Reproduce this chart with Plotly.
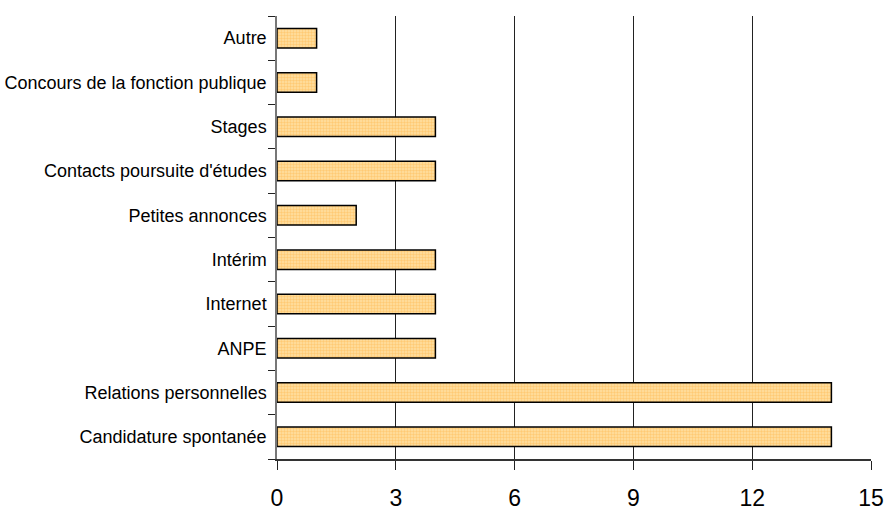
import plotly.graph_objects as go

categories = ["Candidature spontanée", "Relations personnelles", "ANPE", "Internet",
              "Intérim", "Petites annonces", "Contacts poursuite d'études", "Stages",
              "Concours de la fonction publique", "Autre"]
values = [14, 14, 4, 4, 4, 2, 4, 4, 1, 1]
x_ticks = [0, 3, 6, 9, 12, 15]

FONT = "Liberation Sans Narrow, Arial Narrow, Liberation Sans, Arial"

fig = go.Figure(go.Bar(
    x=values, y=categories, orientation="h", width=0.44,
    marker=dict(color="#FFC878", line=dict(color="black", width=1.5),
                pattern=dict(shape=".", fgcolor="#FFB444", bgcolor="#FFE0A4", size=3, solidity=0.5)),
    hoverinfo="x+y",
))

fig.update_layout(
    width=885, height=512,
    margin=dict(l=277, r=14, t=16, b=53),
    paper_bgcolor="white", plot_bgcolor="white",
    showlegend=False, bargap=0.56,
    font=dict(family=FONT, color="black"),
)
fig.update_xaxes(
    range=[0, 15], tickvals=x_ticks, ticktext=[str(v) for v in x_ticks],
    showgrid=True, gridcolor="#222222", gridwidth=1,
    showline=True, linecolor="#333333", linewidth=1.5,
    ticks="outside", ticklen=9, tickcolor="#222222",
    tickfont=dict(size=23, family=FONT), ticklabelstandoff=9,
    zeroline=False, fixedrange=True, automargin=False,
)
fig.update_yaxes(
    categoryorder="array", categoryarray=categories,
    showline=True, linecolor="#777777", linewidth=1.5,
    ticks="outside", ticklen=7, tickcolor="#222222", tickson="boundaries",
    tickfont=dict(size=18, family=FONT), ticklabelstandoff=5,
    showgrid=False, fixedrange=True, automargin=False,
)

fig.write_html("out.html")
